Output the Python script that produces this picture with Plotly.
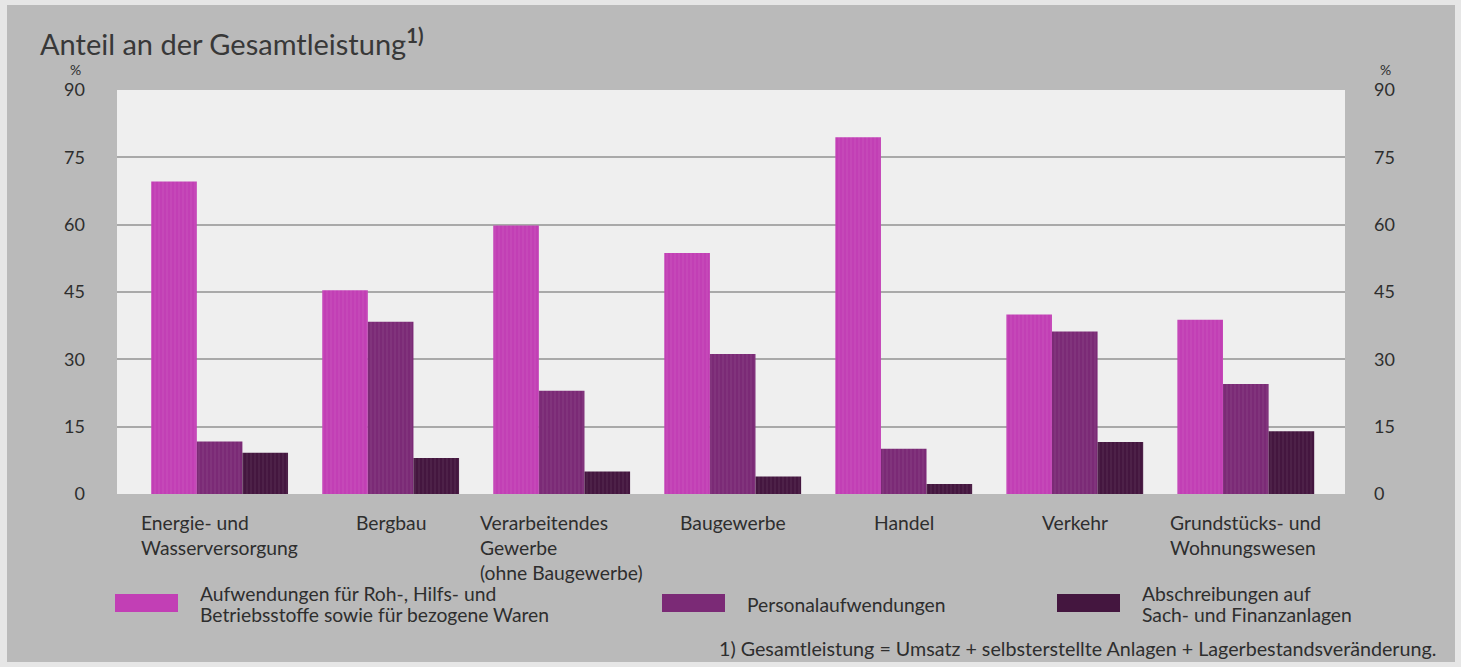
import plotly.graph_objects as go

# Sectors (x categories), with line breaks for the axis labels
categories = [
    "Energie- und<br>Wasserversorgung",
    "Bergbau",
    "Verarbeitendes<br>Gewerbe<br>(ohne Baugewerbe)",
    "Baugewerbe",
    "Handel",
    "Verkehr",
    "Grundstücks- und<br>Wohnungswesen",
]

# Share of total output in %
materials = [69.6, 45.4, 59.8, 53.7, 79.5, 40.0, 38.8]
personnel = [11.7, 38.4, 23.0, 31.2, 10.1, 36.2, 24.5]
depreciation = [9.2, 8.0, 5.0, 3.9, 2.2, 11.6, 14.0]

series_names = [
    "Aufwendungen für Roh-, Hilfs- und<br>Betriebsstoffe sowie für bezogene Waren",
    "Personalaufwendungen",
    "Abschreibungen auf<br>Sach- und Finanzanlagen",
]
series_colors = ["#c23fb5", "#7b2a76", "#44163f"]

y_ticks = [0, 15, 30, 45, 60, 75, 90]

title_text = "Anteil an der Gesamtleistung<sup><b>1)</b></sup>"
footnote = "1) Gesamtleistung = Umsatz + selbsterstellte Anlagen + Lagerbestandsveränderung."

# Canvas geometry (pixels)
W, H = 1461, 667
L, R, T, B = 117, 1345, 90, 494
FONT = "Lato"
TEXT = "#2e2e2e"
LABEL_SIZE = 19.3


def px(x):
    return (x - L) / (R - L)


def py(y):
    return (B - y) / (B - T)


fig = go.Figure()
for name, vals, col in zip(series_names, [materials, personnel, depreciation], series_colors):
    fig.add_trace(go.Bar(
        x=list(range(len(categories))), y=vals, name=name.replace("<br>", " "),
        marker=dict(color=col, line=dict(width=0),
                    pattern=dict(shape="|", fgcolor="#ffffff", fgopacity=0.08, size=4, solidity=0.3)),
        showlegend=False, hoverinfo="y",
    ))

# invisible trace so the right-hand axis is drawn
fig.add_trace(go.Scatter(x=[0, 6], y=[0, 90], yaxis="y2", mode="markers",
                         marker=dict(opacity=0), showlegend=False, hoverinfo="skip"))

axis_font = dict(family=FONT, size=18, color=TEXT)
fig.update_layout(
    width=W, height=H,
    margin=dict(l=L, r=W - R, t=T, b=H - B),
    paper_bgcolor="#e6e6e6",
    plot_bgcolor="#efefef",
    barmode="group", bargap=0.2, bargroupgap=0,
    xaxis=dict(range=[-0.6, 6.58], showticklabels=False, showgrid=False, zeroline=False,
               showline=False, ticks=""),
    yaxis=dict(range=[0, 90], tickvals=y_ticks, showgrid=True, gridcolor="#a9a9a9", gridwidth=2,
               zeroline=False, showline=False, ticks="", tickfont=axis_font, ticklabelstandoff=31),
    yaxis2=dict(range=[0, 90], tickvals=y_ticks, overlaying="y", side="right", showgrid=False,
                zeroline=False, showline=False, ticks="", tickfont=axis_font, ticklabelstandoff=28),
)

shapes = [
    # grey panel behind everything
    dict(type="rect", xref="paper", yref="paper", layer="below",
         x0=px(7), x1=px(1455), y0=py(662), y1=py(5),
         fillcolor="#bababa", line=dict(width=0)),
    # light plotting area
    dict(type="rect", xref="paper", yref="paper", layer="below",
         x0=0, x1=1, y0=0, y1=1, fillcolor="#efefef", line=dict(width=0)),
]
annotations = [
    dict(text=title_text, x=px(38), y=py(42), xref="paper", yref="paper",
         xanchor="left", yanchor="middle", showarrow=False,
         font=dict(family=FONT, size=29, color="#383838")),
    dict(text="%", x=px(75), y=py(80), xref="paper", yref="paper", xanchor="center", yanchor="bottom",
         showarrow=False, font=dict(family=FONT, size=14, color=TEXT)),
    dict(text="%", x=px(1386), y=py(80), xref="paper", yref="paper", xanchor="center", yanchor="bottom",
         showarrow=False, font=dict(family=FONT, size=14, color=TEXT)),
    dict(text=footnote, x=px(1438), y=py(648), xref="paper", yref="paper",
         xanchor="right", yanchor="middle", showarrow=False,
         font=dict(family=FONT, size=19.7, color=TEXT)),
]

# category labels under each group: a left-aligned block centred on the group
for i, cat in enumerate(categories):
    annotations.append(dict(text=cat, x=i, y=py(509), xref="x", yref="paper",
                            xanchor="center", yanchor="top", align="left", showarrow=False,
                            font=dict(family=FONT, size=LABEL_SIZE, color=TEXT)))

# legend: swatch + label (lines set tightly, 21 px apart)
swatch_x = [115, 662, 1057]
LINE_GAP = 21
for sx, name, col in zip(swatch_x, series_names, series_colors):
    shapes.append(dict(type="rect", xref="paper", yref="paper",
                       x0=px(sx), x1=px(sx + 63), y0=py(612), y1=py(594),
                       fillcolor=col, line=dict(width=0)))
    lines = name.split("<br>")
    first = 604 - LINE_GAP * (len(lines) - 1) / 2
    for k, line in enumerate(lines):
        annotations.append(dict(text=line, x=px(sx + 83), y=py(first + k * LINE_GAP),
                                xref="paper", yref="paper", height=LINE_GAP,
                                xanchor="left", yanchor="middle", showarrow=False,
                                font=dict(family=FONT, size=LABEL_SIZE, color=TEXT)))

fig.update_layout(shapes=shapes, annotations=annotations)
fig.write_html("out.html")
